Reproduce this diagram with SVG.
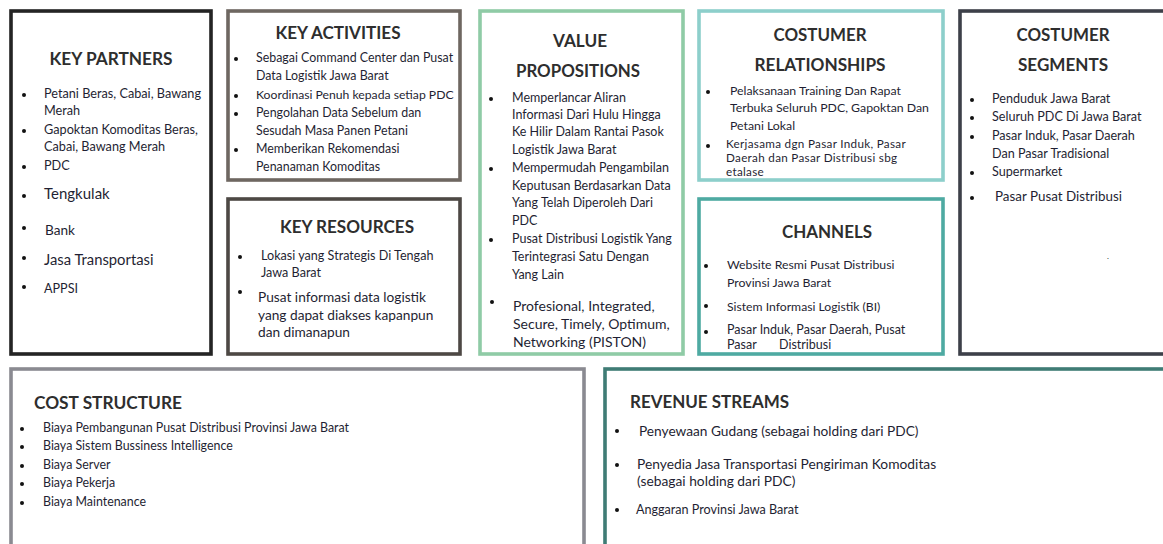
<svg xmlns="http://www.w3.org/2000/svg" width="1163" height="544" viewBox="0 0 1163 544">
<style>
.box{fill:#fff;stroke-width:3.6}
.t{font-family:Lato,"Open Sans",sans-serif;font-weight:700;font-size:16.5px;fill:#2e2e2e;text-anchor:middle}
.tl{font-family:Lato,"Open Sans",sans-serif;font-weight:700;font-size:16.5px;fill:#2e2e2e}
.b{font-family:Lato,"Open Sans",sans-serif;font-size:12.4px;fill:#1f1f33}
.d{fill:#111}
</style>
<rect width="1163" height="544" fill="#fff"/>

<g id="key-partners">
<rect class="box" x="11" y="11" width="200" height="343" stroke="#242424"/>
<text class="t" x="111" y="65" textLength="123" lengthAdjust="spacingAndGlyphs">KEY PARTNERS</text>
<circle class="d" cx="24" cy="95" r="2"/>
<text class="b" x="44" y="98" style="font-size:12.7px">Petani Beras, Cabai, Bawang</text>
<text class="b" x="44" y="115" style="font-size:12.7px">Merah</text>
<circle class="d" cx="24" cy="131" r="2"/>
<text class="b" x="44" y="134" style="font-size:12.7px">Gapoktan Komoditas Beras,</text>
<text class="b" x="44" y="151" style="font-size:12.7px">Cabai, Bawang Merah</text>
<circle class="d" cx="24" cy="167" r="2"/>
<text class="b" x="44" y="170" style="font-size:12.7px">PDC</text>
<circle class="d" cx="24" cy="196" r="2"/>
<text class="b" x="44" y="199" style="font-size:15px">Tengkulak</text>
<circle class="d" cx="24" cy="228" r="2"/>
<text class="b" x="45" y="235" style="font-size:13.6px">Bank</text>
<circle class="d" cx="24" cy="258" r="2"/>
<text class="b" x="44" y="265" style="font-size:14.8px">Jasa Transportasi</text>
<circle class="d" cx="24" cy="287" r="2"/>
<text class="b" x="44" y="293" style="font-size:12.6px">APPSI</text>
</g>

<g id="key-activities">
<rect class="box" x="228" y="11" width="232" height="169" stroke="#6e6761"/>
<text class="t" x="338" y="39" textLength="125" lengthAdjust="spacingAndGlyphs">KEY ACTIVITIES</text>
<circle class="d" cx="236" cy="59" r="2"/>
<text class="b" x="256" y="62">Sebagai Command Center dan Pusat</text>
<text class="b" x="256" y="80">Data Logistik Jawa Barat</text>
<circle class="d" cx="236" cy="96" r="2"/>
<text class="b" x="256" y="99" style="font-size:12.2px">Koordinasi Penuh kepada setiap PDC</text>
<circle class="d" cx="236" cy="114" r="2"/>
<text class="b" x="256" y="117">Pengolahan Data Sebelum dan</text>
<text class="b" x="256" y="135">Sesudah Masa Panen Petani</text>
<circle class="d" cx="236" cy="150" r="2"/>
<text class="b" x="256" y="153">Memberikan Rekomendasi</text>
<text class="b" x="256" y="171">Penanaman Komoditas</text>
</g>

<g id="key-resources">
<rect class="box" x="228" y="199" width="232" height="155" stroke="#4d4844"/>
<text class="t" x="347" y="233" textLength="134" lengthAdjust="spacingAndGlyphs">KEY RESOURCES</text>
<circle class="d" cx="240" cy="257" r="2"/>
<text class="b" x="261" y="260" style="font-size:12.6px">Lokasi yang Strategis Di Tengah</text>
<text class="b" x="261" y="277" style="font-size:12.6px">Jawa Barat</text>
<circle class="d" cx="240" cy="292" r="2"/>
<text class="b" x="258" y="302" style="font-size:13.7px">Pusat informasi data logistik</text>
<text class="b" x="258" y="320" style="font-size:13.7px">yang dapat diakses kapanpun</text>
<text class="b" x="258" y="337" style="font-size:13.7px">dan dimanapun</text>
</g>

<g id="value-propositions">
<rect class="box" x="480" y="11" width="203" height="343" stroke="#8fcba6"/>
<text class="t" x="580" y="47" textLength="54" lengthAdjust="spacingAndGlyphs">VALUE</text>
<text class="t" x="578" y="77" textLength="124" lengthAdjust="spacingAndGlyphs">PROPOSITIONS</text>
<circle class="d" cx="491" cy="99" r="2"/>
<text class="b" x="512" y="102" style="font-size:12.5px">Memperlancar Aliran</text>
<text class="b" x="512" y="119" style="font-size:12.5px">Informasi Dari Hulu Hingga</text>
<text class="b" x="512" y="136" style="font-size:12.5px">Ke Hilir Dalam Rantai Pasok</text>
<text class="b" x="512" y="154" style="font-size:12.5px">Logistik Jawa Barat</text>
<circle class="d" cx="491" cy="169" r="2"/>
<text class="b" x="512" y="172" style="font-size:12.5px">Mempermudah Pengambilan</text>
<text class="b" x="512" y="190" style="font-size:12.5px">Keputusan Berdasarkan Data</text>
<text class="b" x="512" y="207" style="font-size:12.5px">Yang Telah Diperoleh Dari</text>
<text class="b" x="512" y="225" style="font-size:12.5px">PDC</text>
<circle class="d" cx="491" cy="240" r="2"/>
<text class="b" x="512" y="243" style="font-size:12.5px">Pusat Distribusi Logistik Yang</text>
<text class="b" x="512" y="261" style="font-size:12.5px">Terintegrasi Satu Dengan</text>
<text class="b" x="512" y="279" style="font-size:12.5px">Yang Lain</text>
<circle class="d" cx="492" cy="302" r="2"/>
<text class="b" x="513" y="311" style="font-size:14px">Profesional, Integrated,</text>
<text class="b" x="513" y="329" style="font-size:14px">Secure, Timely, Optimum,</text>
<text class="b" x="513" y="347" style="font-size:14px">Networking (PISTON)</text>
</g>

<g id="customer-relationships">
<rect class="box" x="699" y="11" width="244" height="169" stroke="#8dcfcb"/>
<text class="t" x="820" y="41" textLength="93" lengthAdjust="spacingAndGlyphs">COSTUMER</text>
<text class="t" x="820" y="71" textLength="131" lengthAdjust="spacingAndGlyphs">RELATIONSHIPS</text>
<circle class="d" cx="708" cy="92" r="2"/>
<text class="b" x="730" y="95" style="font-size:12.3px">Pelaksanaan Training Dan Rapat</text>
<text class="b" x="730" y="112" style="font-size:12.3px">Terbuka Seluruh PDC, Gapoktan Dan</text>
<text class="b" x="730" y="130" style="font-size:12.3px">Petani Lokal</text>
<circle class="d" cx="708" cy="146" r="2"/>
<text class="b" x="726" y="148" style="font-size:11.7px;letter-spacing:0.3px">Kerjasama dgn Pasar Induk, Pasar</text>
<text class="b" x="726" y="162" style="font-size:11.7px;letter-spacing:0.3px">Daerah dan Pasar Distribusi sbg</text>
<text class="b" x="726" y="176" style="font-size:11.7px;letter-spacing:0.3px">etalase</text>
</g>

<g id="channels">
<rect class="box" x="699" y="199" width="244" height="155" stroke="#4eaaa2"/>
<text class="t" x="827" y="238" textLength="90" lengthAdjust="spacingAndGlyphs">CHANNELS</text>
<circle class="d" cx="706" cy="266" r="2"/>
<text class="b" x="727" y="269" style="font-size:12.3px">Website Resmi Pusat Distribusi</text>
<text class="b" x="727" y="287" style="font-size:12.3px">Provinsi Jawa Barat</text>
<circle class="d" cx="706" cy="306" r="2"/>
<text class="b" x="727" y="311" style="font-size:12.2px">Sistem Informasi Logistik (BI)</text>
<circle class="d" cx="706" cy="332" r="2"/>
<text class="b" x="727" y="334" style="font-size:12.5px">Pasar Induk, Pasar Daerah, Pusat</text>
<text class="b" x="727" y="349" style="font-size:12.5px">Pasar</text>
<text class="b" x="779" y="349" style="font-size:12.5px">Distribusi</text>
</g>

<g id="customer-segments">
<rect class="box" x="960" y="11" width="212" height="343" stroke="#3d4049"/>
<text class="t" x="1063" y="41" textLength="93" lengthAdjust="spacingAndGlyphs">COSTUMER</text>
<text class="t" x="1063" y="71" textLength="90" lengthAdjust="spacingAndGlyphs">SEGMENTS</text>
<circle class="d" cx="972" cy="100" r="2"/>
<text class="b" x="992" y="103" style="font-size:12.6px">Penduduk Jawa Barat</text>
<circle class="d" cx="972" cy="118" r="2"/>
<text class="b" x="992" y="121" style="font-size:12.6px">Seluruh PDC Di Jawa Barat</text>
<circle class="d" cx="972" cy="137" r="2"/>
<text class="b" x="992" y="140" style="font-size:12.6px">Pasar Induk, Pasar Daerah</text>
<text class="b" x="992" y="158" style="font-size:12.6px">Dan Pasar Tradisional</text>
<circle class="d" cx="972" cy="173" r="2"/>
<text class="b" x="992" y="176" style="font-size:12.6px">Supermarket</text>
<circle class="d" cx="972" cy="198" r="2"/>
<text class="b" x="995" y="201" style="font-size:13.4px">Pasar Pusat Distribusi</text>
<text class="b" x="1107" y="259" style="font-size:8px">.</text>
</g>

<g id="cost-structure">
<rect class="box" x="11" y="369" width="573" height="190" stroke="#8a8a91"/>
<text class="tl" x="34" y="409" textLength="148" lengthAdjust="spacingAndGlyphs">COST STRUCTURE</text>
<circle class="d" cx="22" cy="429" r="2"/>
<text class="b" x="43" y="432">Biaya Pembangunan Pusat Distribusi Provinsi Jawa Barat</text>
<circle class="d" cx="22" cy="447" r="2"/>
<text class="b" x="43" y="450">Biaya Sistem Bussiness Intelligence</text>
<circle class="d" cx="22" cy="466" r="2"/>
<text class="b" x="43" y="469">Biaya Server</text>
<circle class="d" cx="22" cy="484" r="2"/>
<text class="b" x="43" y="487">Biaya Pekerja</text>
<circle class="d" cx="22" cy="503" r="2"/>
<text class="b" x="43" y="506">Biaya Maintenance</text>
</g>

<g id="revenue-streams">
<rect class="box" x="605" y="369" width="570" height="190" stroke="#3f7c75"/>
<text class="tl" x="630" y="408" textLength="159" lengthAdjust="spacingAndGlyphs">REVENUE STREAMS</text>
<circle class="d" cx="617" cy="431" r="2"/>
<text class="b" x="639" y="436" style="font-size:13.7px">Penyewaan Gudang (sebagai holding dari PDC)</text>
<circle class="d" cx="617" cy="465" r="2"/>
<text class="b" x="637" y="469" style="font-size:13.8px">Penyedia Jasa Transportasi Pengiriman Komoditas</text>
<text class="b" x="637" y="486" style="font-size:13.8px">(sebagai holding dari PDC)</text>
<circle class="d" cx="617" cy="510" r="2"/>
<text class="b" x="636" y="514" style="font-size:12.6px">Anggaran Provinsi Jawa Barat</text>
</g>

<g id="connectors"></g>
</svg>
